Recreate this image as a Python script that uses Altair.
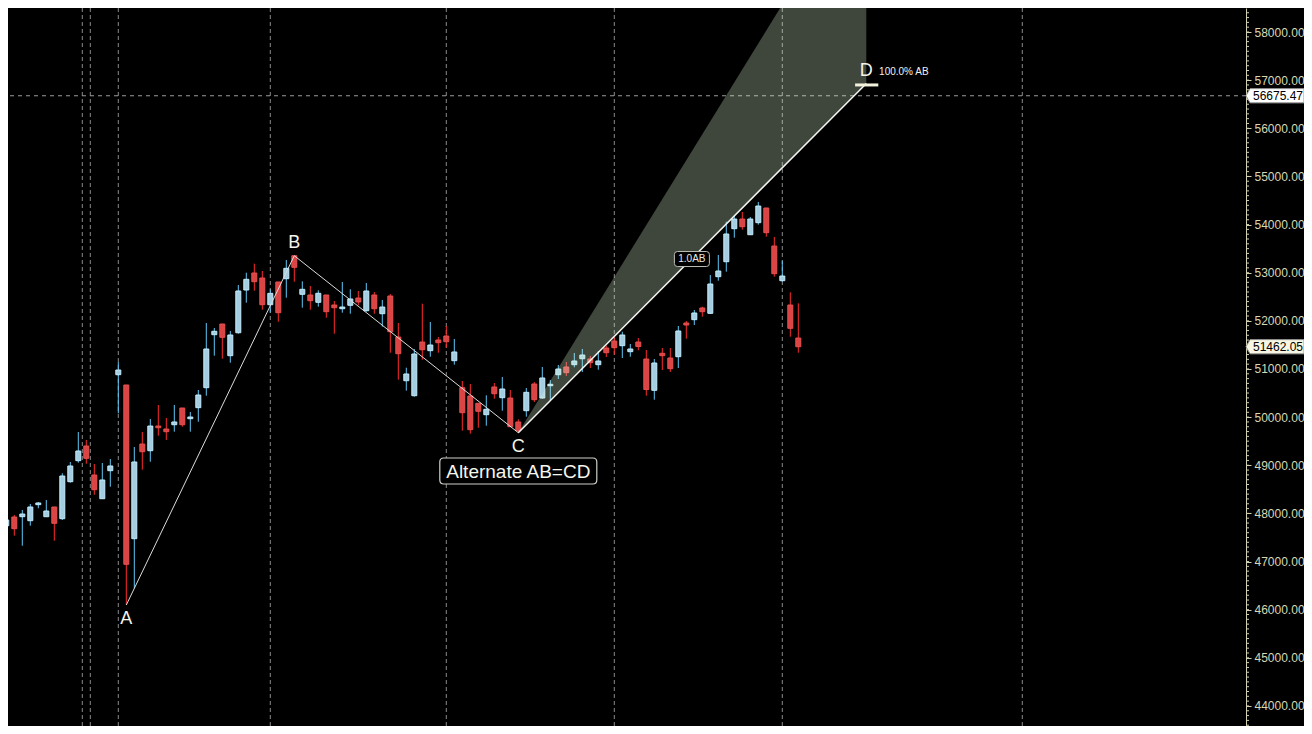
import altair as alt
import pandas as pd

# ---------------- data ----------------
IDX = list(range(-1, 100))
OPEN = [47391, 47744, 47925, 47931, 47848, 48181, 47931, 48133, 47890, 48658,
        49095, 49400, 48797, 48305, 48887, 50881, 50667, 47474, 49441, 49302,
        49815, 49753, 49842, 50189, 49967, 50196, 50611, 51712, 51934, 51276,
        51753, 52640, 52994, 52890, 52335, 52807, 52875, 53353, 52551, 52537,
        52385, 52537, 52329, 52252, 52323, 52474, 52210, 52537, 52148, 52516,
        51664, 50756, 50445, 51560, 51380, 51602, 51685, 51172, 50611, 50439,
        50287, 50050, 50626, 50403, 50397, 49899, 50133, 50688, 50397, 50652,
        50881, 51041, 51089, 51213, 51207, 51089, 51436, 51581, 51484, 51359,
        51560, 51207, 50557, 51326, 51228, 51255, 51955, 52024, 52267, 52156,
        52917, 53228, 53914, 54115, 53789, 54039, 54344, 53554, 52834, 52329,
        51643]
HIGH = [47822, 47946, 47967, 48070, 48195, 48237, 48278, 48133, 48833, 49068,
        49691, 49525, 49026, 49047, 49130, 51145, 50667, 49379, 49691, 49961,
        50252, 49982, 50252, 50189, 50106, 50563, 51955, 51851, 51934, 51789,
        52744, 53000, 53187, 53035, 52655, 52807, 53264, 53353, 52821, 52724,
        52634, 52537, 52412, 52807, 52655, 52620, 52786, 52599, 52433, 52557,
        51955, 51027, 51415, 52356, 51976, 51664, 51893, 51623, 50750, 50688,
        50287, 50453, 50709, 50833, 50563, 49955, 50605, 50729, 51041, 50771,
        51083, 51145, 51332, 51415, 51270, 51373, 51484, 51658, 51774, 51519,
        51643, 51394, 51207, 51436, 51436, 51893, 51997, 52225, 52294, 52952,
        53368, 54059, 54178, 54261, 54157, 54469, 54344, 53742, 53249, 52593,
        52364]
LOW = [47323, 47599, 47537, 47329, 47744, 48106, 47931, 47433, 47863, 48638,
       49053, 49032, 48388, 48305, 48554, 50079, 46097, 46444, 48908, 49074,
       49614, 49525, 49697, 49801, 49697, 49905, 50445, 51276, 51213, 51130,
       51733, 52377, 52626, 52231, 52169, 51982, 52481, 52813, 52273, 52231,
       52294, 52065, 51733, 52169, 52148, 52323, 52190, 52148, 51878, 51338,
       50777, 50549, 50424, 51193, 51255, 51338, 51442, 51089, 49718, 49656,
       49780, 49822, 50383, 50133, 49801, 49676, 50009, 50314, 50383, 50341,
       50792, 50854, 51035, 50937, 51020, 50985, 51249, 51296, 51228, 51255,
       51388, 50445, 50362, 50979, 50937, 51020, 51629, 51913, 52086, 52142,
       52834, 53021, 53727, 53893, 53789, 53997, 53748, 52917, 52813, 51670,
       51338]
CLOSE = [47759, 47863, 47682, 47987, 48133, 48216, 48050, 47794, 48777, 48985,
         49296, 49144, 48492, 48694, 48985, 50979, 46942, 49068, 49281, 49815,
         49780, 49697, 49899, 49842, 50002, 50459, 51415, 51783, 51658, 51706,
         52620, 52863, 52813, 52335, 52572, 52169, 53091, 53112, 52655, 52418,
         52572, 52190, 52273, 52287, 52454, 52391, 52620, 52252, 52287, 51774,
         51317, 50896, 51311, 51400, 51498, 51546, 51567, 51353, 50092, 49739,
         50121, 50162, 50486, 50584, 49801, 49718, 50515, 50362, 50813, 50682,
         50999, 50923, 51166, 51290, 51130, 51166, 51338, 51442, 51706, 51415,
         51467, 50574, 51124, 51276, 51006, 51789, 51913, 52163, 52190, 52765,
         53035, 53804, 54115, 53955, 54115, 54385, 53831, 52979, 52931, 51845,
         51462.05]

GRID_X = [9.5, 10.5, 14, 33, 55, 76, 97, 127]
Y_TICKS = list(range(44000, 58001, 1000))
MINOR_TICKS = list(range(43600, 58500, 100))

# harmonic pattern A-B-C-D (candle index, price)
PAT_LABEL = ["A", "B", "C", "D"]
PAT_X = [15, 36, 64, 107.5]
PAT_Y = [46097, 53353, 49676, 56930]
PAT_POS = ["below", "above", "below", "above"]

# projection zone C -> D
SHADE_X = [64, 102.3, 107.5]
SHADE_LO = [49676, 56060, 56930]
SHADE_HI = [49676, 60000, 60000]

D_BAR_X = [106.1]
D_BAR_X2 = [109.0]
D_BAR_Y = [56900]

PRICE_LEVELS = [56675.47, 51462.05]
PRICE_TEXT = ["56675.47", "51462.05"]
PRICE_FILL = ["#ffffff", "#f6f6e2"]

TITLE_TEXT = ["Alternate AB=CD"]
TITLE_X = [64]
TITLE_Y = [48881]

RATIO_TEXT = ["1.0AB"]
RATIO_X = [85.7]
RATIO_Y = [53284]

PCT_TEXT = ["100.0% AB"]
PCT_X = [109.1]
PCT_Y = [56930]

# ---------------- chart ----------------
W, H = 1238, 718
xs = alt.Scale(domain=[0.2125, 154.9625], nice=False, zero=False, padding=0)
ys = alt.Scale(domain=[43583.5, 58498.6], nice=False, zero=False, padding=0)
FONT = "Liberation Sans"
yaxis = alt.Axis(values=Y_TICKS, format=".2f", orient="right", title=None,
                 grid=False, labelColor="#d8d8b4", labelFont=FONT, labelFontSize=12,
                 tickColor="#d0d0b0", domainColor="#d0d0b0", tickSize=5,
                 labelPadding=3, labelFlush=False, labelOverlap=False)


def X(field):
    return alt.X(field, scale=xs, axis=None)


def Y(field):
    return alt.Y(field, scale=ys, axis=yaxis)


df = pd.DataFrame({"i": IDX, "open": OPEN, "high": HIGH, "low": LOW, "close": CLOSE})
df["dir"] = ["up" if c >= o else "down" for o, c in zip(OPEN, CLOSE)]

grid = alt.Chart(pd.DataFrame({"g": GRID_X})).mark_rule(
    color="#8a8a8a", strokeDash=[4, 3], strokeWidth=1
).encode(x=X("g:Q"))

hline = alt.Chart(pd.DataFrame({"p": PRICE_LEVELS[:1]})).mark_rule(
    color="#9a9a9a", strokeDash=[4, 4], strokeWidth=1
).encode(y=Y("p:Q"))

wicks = alt.Chart(df).mark_rule(strokeWidth=1, clip=True).encode(
    x=X("i:Q"), y=Y("low:Q"), y2="high:Q",
    color=alt.Color("dir:N", scale=alt.Scale(domain=["up", "down"], range=["#5ec6f6", "#ff2b2b"]), legend=None),
)

bodies = alt.Chart(df).mark_bar(size=5, strokeWidth=1, clip=True).encode(
    x=X("i:Q"), y=Y("open:Q"), y2="close:Q",
    fill=alt.Fill("dir:N", scale=alt.Scale(domain=["up", "down"], range=["#a4cde2", "#dc4444"]), legend=None),
    stroke=alt.Stroke("dir:N", scale=alt.Scale(domain=["up", "down"], range=["#c4ecfc", "#e45252"]), legend=None),
)

shade = alt.Chart(pd.DataFrame({"x": SHADE_X, "lo": SHADE_LO, "hi": SHADE_HI})).mark_area(
    fill="#e2ffda", fillOpacity=0.28, clip=True
).encode(x=X("x:Q"), y=Y("lo:Q"), y2="hi:Q")

pat = pd.DataFrame({"lab": PAT_LABEL, "x": PAT_X, "y": PAT_Y, "pos": PAT_POS})
abc = alt.Chart(pat.iloc[:3]).mark_line(color="#dcdcdc", strokeWidth=1, clip=True).encode(
    x=X("x:Q"), y=Y("y:Q"))
cd = alt.Chart(pat.iloc[2:]).mark_line(color="#f4f4f0", strokeWidth=1.5, clip=True).encode(
    x=X("x:Q"), y=Y("y:Q"))

dbar = alt.Chart(pd.DataFrame({"x": D_BAR_X, "x2": D_BAR_X2, "y": D_BAR_Y})).mark_rule(
    color="#f2f2dc", strokeWidth=3).encode(x=X("x:Q"), x2="x2:Q", y=Y("y:Q"))

lab_below = alt.Chart(pat[pat.pos == "below"]).mark_text(
    font=FONT, fontSize=18, color="#f4f4ec", dy=14, baseline="middle").encode(
    x=X("x:Q"), y=Y("y:Q"), text="lab:N")
lab_above = alt.Chart(pat[pat.pos == "above"]).mark_text(
    font=FONT, fontSize=18, color="#f4f4ec", dy=-13, baseline="middle").encode(
    x=X("x:Q"), y=Y("y:Q"), text="lab:N")

pct = alt.Chart(pd.DataFrame({"t": PCT_TEXT, "x": PCT_X, "y": PCT_Y})).mark_text(
    font=FONT, fontSize=10, color="#f0f0f0", align="left", baseline="middle", dy=-12).encode(
    x=X("x:Q"), y=Y("y:Q"), text="t:N")


def rounded(wpx, hpx, rpx):
    s = 2.0 / wpx
    h = hpx / 2 * s
    r = rpx * s
    return (f"M{-1 + r:.4f},{-h:.4f} L{1 - r:.4f},{-h:.4f} Q1,{-h:.4f} 1,{-h + r:.4f} "
            f"L1,{h - r:.4f} Q1,{h:.4f} {1 - r:.4f},{h:.4f} L{-1 + r:.4f},{h:.4f} "
            f"Q-1,{h:.4f} -1,{h - r:.4f} L-1,{-h + r:.4f} Q-1,{-h:.4f} {-1 + r:.4f},{-h:.4f} Z")


title_df = pd.DataFrame({"t": TITLE_TEXT, "x": TITLE_X, "y": TITLE_Y})
title_box = alt.Chart(title_df).mark_point(
    shape=rounded(157, 26, 4), size=157 ** 2, filled=True, fill="#000000",
    stroke="#cfcfc8", strokeWidth=1.2, opacity=1).encode(x=X("x:Q"), y=Y("y:Q"))
title_txt = alt.Chart(title_df).mark_text(
    font=FONT, fontSize=19, color="#f6f6ee", baseline="middle", dy=1).encode(
    x=X("x:Q"), y=Y("y:Q"), text="t:N")

ratio_df = pd.DataFrame({"t": RATIO_TEXT, "x": RATIO_X, "y": RATIO_Y})
ratio_box = alt.Chart(ratio_df).mark_point(
    shape=rounded(35, 15, 3), size=35 ** 2, filled=True, fill="#000000",
    stroke="#bdbdb6", strokeWidth=1, opacity=1).encode(x=X("x:Q"), y=Y("y:Q"))
ratio_txt = alt.Chart(ratio_df).mark_text(
    font=FONT, fontSize=10, color="#e8e8e0", baseline="middle").encode(
    x=X("x:Q"), y=Y("y:Q"), text="t:N")

minor = alt.Chart(pd.DataFrame({"m": MINOR_TICKS})).mark_rule(
    color="#d0d0b0", strokeWidth=1).encode(
    y=Y("m:Q"), x=alt.value(W), x2=alt.value(W + 3))

price_df = pd.DataFrame({"p": PRICE_LEVELS, "t": PRICE_TEXT, "f": PRICE_FILL})
PTR = "M-1,0 L-0.86,-0.245 L1,-0.245 L1,0.245 L-0.86,0.245 Z"
price_box = alt.Chart(price_df).mark_point(
    shape=PTR, size=58 ** 2, filled=True, stroke="#9a9a9a", strokeWidth=1, opacity=1).encode(
    y=Y("p:Q"), x=alt.value(W + 29), fill=alt.Fill("f:N", scale=None))
price_txt = alt.Chart(price_df).mark_text(
    font=FONT, fontSize=12, color="#000000", baseline="middle", align="center").encode(
    y=Y("p:Q"), x=alt.value(W + 32), text="t:N")

chart = alt.layer(
    grid, hline, wicks, bodies, shade, abc, cd, dbar, lab_below, lab_above, pct,
    title_box, title_txt, ratio_box, ratio_txt, minor, price_box, price_txt
).properties(
    width=W, height=H,
    padding={"left": 0, "top": 0, "right": 58, "bottom": 0},
    autosize=alt.AutoSizeParams(type="none"),
).configure(background="#000000").configure_view(stroke=None)

chart.save("out.html", embed_options={"renderer": "svg", "actions": False})
